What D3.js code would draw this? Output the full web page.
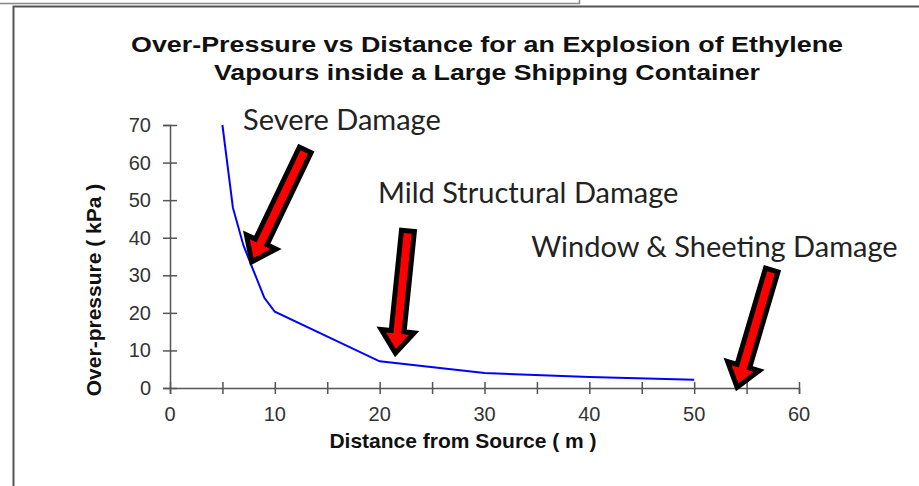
<!DOCTYPE html>
<html>
<head>
<meta charset="utf-8">
<script src="https://cdn.jsdelivr.net/npm/d3@7"></script>
<style>
  body { margin: 0; background: #fff; }
  text { font-family: "Liberation Sans", Arial, sans-serif; }
  .tick-label { font-size: 20px; fill: #333; }
  .axis-title { font-size: 21px; font-weight: bold; fill: #111; }
  .graph-title { font-size: 22px; font-weight: bold; fill: #111; }
  .note { font-family: "Lato", "Open Sans", sans-serif; font-size: 29px; fill: #222; }
</style>
</head>
<body>
<svg id="canvas"></svg>
<script>
// Chart values.
var distances = [5, 6, 7, 8, 9, 10, 20, 30, 40, 50];
var pressures = [70, 48, 38, 31, 24, 20.3, 7.1, 4.0, 2.9, 2.2];
var xTicks = [0, 10, 20, 30, 40, 50, 60];
var xMinorTicks = [5, 15, 25, 35, 45, 55];
var yTicks = [0, 10, 20, 30, 40, 50, 60, 70];

// Annotation labels and arrows (in data units: tail -> tip).
var noteLabels = ['Severe Damage', 'Mild Structural Damage', 'Window & Sheeting Damage'];
var noteAnchors = [[6.97, 68.6], [19.85, 49.2], [34.45, 34.8]];
var arrowTails = [[12.9, 63.4], [22.7, 41.8], [57.4, 31.4]];
var arrowTips = [[7.8, 33.6], [21.5, 9.3], [54.1, 0.2]];

var canvas = { width: 919, height: 486 };
var plot = { left: 170, right: 799, top: 125, bottom: 388 };

var svg = d3.select('#canvas')
            .attr('width', canvas.width)
            .attr('height', canvas.height);

// Frame lines of the pasted picture.
svg.append('path')
   .attr('d', 'M0,3.5H579.5V0')
   .attr('fill', 'none').attr('stroke', '#888').attr('stroke-width', 1.5);
svg.append('path')
   .attr('d', 'M13.5,486V6.5H919')
   .attr('fill', 'none').attr('stroke', '#555').attr('stroke-width', 2);

var xScale = d3.scaleLinear().domain([0, 60]).range([plot.left, plot.right]);
var yScale = d3.scaleLinear().domain([0, 70]).range([plot.bottom, plot.top]);

// Title (stretched to the width of the original).
svg.append('text').attr('class', 'graph-title').attr('text-anchor', 'middle')
   .attr('x', 487).attr('y', 52)
   .attr('textLength', 712).attr('lengthAdjust', 'spacingAndGlyphs')
   .text('Over-Pressure vs Distance for an Explosion of  Ethylene');
svg.append('text').attr('class', 'graph-title').attr('text-anchor', 'middle')
   .attr('x', 487).attr('y', 80)
   .attr('textLength', 546).attr('lengthAdjust', 'spacingAndGlyphs')
   .text('Vapours inside a Large Shipping Container');

// Axes.
var axisColour = '#555';
var xAxis = svg.append('g').attr('transform', 'translate(0,' + plot.bottom + ')')
   .call(d3.axisBottom(xScale).tickValues(xTicks.concat(xMinorTicks)).tickSize(6).tickFormat(''));
var yAxis = svg.append('g').attr('transform', 'translate(' + plot.left + ',0)')
   .call(d3.axisLeft(yScale).tickValues(yTicks).tickSize(7).tickFormat(''));
[xAxis, yAxis].forEach(function(a) {
  a.select('.domain').attr('stroke', axisColour).attr('stroke-width', 1.5);
  a.selectAll('.tick line').attr('stroke', axisColour).attr('stroke-width', 1.5);
});
xAxis.selectAll('.tick line').attr('y1', -6);
yAxis.selectAll('.tick line').attr('x1', 7);

// Tick labels.
svg.selectAll('.xlab').data(xTicks).enter().append('text')
   .attr('class', 'tick-label').attr('text-anchor', 'middle')
   .attr('x', function(d) { return xScale(d); }).attr('y', plot.bottom + 33)
   .text(function(d) { return d; });
svg.selectAll('.ylab').data(yTicks).enter().append('text')
   .attr('class', 'tick-label').attr('text-anchor', 'end')
   .attr('x', plot.left - 19).attr('y', function(d) { return yScale(d) + 7; })
   .text(function(d) { return d; });

// Axis titles.
svg.append('text').attr('class', 'axis-title').attr('text-anchor', 'middle')
   .attr('x', 463).attr('y', 448).text('Distance from Source ( m )');
svg.append('text').attr('class', 'axis-title').attr('text-anchor', 'middle')
   .attr('transform', 'translate(101,290) rotate(-90)').text('Over-pressure ( kPa )');

// Curve.
var line = d3.line()
   .x(function(d, i) { return xScale(distances[i]); })
   .y(function(d) { return yScale(d); });
svg.append('path').datum(pressures)
   .attr('d', line).attr('fill', 'none').attr('stroke', '#0000ff').attr('stroke-width', 2);

// Annotation texts.
svg.selectAll('.note').data(noteLabels).enter().append('text')
   .attr('class', 'note')
   .attr('x', function(d, i) { return xScale(noteAnchors[i][0]); })
   .attr('y', function(d, i) { return yScale(noteAnchors[i][1]); })
   .text(function(d) { return d; });

// Block arrows.
function arrowPath(tail, tip) {
  var x0 = xScale(tail[0]), y0 = yScale(tail[1]);
  var x1 = xScale(tip[0]), y1 = yScale(tip[1]);
  var dx = x1 - x0, dy = y1 - y0, len = Math.sqrt(dx*dx + dy*dy);
  var ux = dx / len, uy = dy / len, px = -uy, py = ux;
  var shaft = 6.5, head = 16.5, headLen = 22;
  var bx = x1 - ux * headLen, by = y1 - uy * headLen;
  var pts = [
    [x0 + px*shaft, y0 + py*shaft],
    [bx + px*shaft, by + py*shaft],
    [bx + px*head, by + py*head],
    [x1, y1],
    [bx - px*head, by - py*head],
    [bx - px*shaft, by - py*shaft],
    [x0 - px*shaft, y0 - py*shaft]
  ];
  return 'M' + pts.map(function(p) { return p[0].toFixed(1) + ',' + p[1].toFixed(1); }).join('L') + 'Z';
}
svg.selectAll('.arrow').data(arrowTips).enter().append('path')
   .attr('class', 'arrow')
   .attr('d', function(d, i) { return arrowPath(arrowTails[i], d); })
   .attr('fill', '#ff0000').attr('stroke', '#000').attr('stroke-width', 5)
   .attr('stroke-linejoin', 'miter');
</script>
</body>
</html>
